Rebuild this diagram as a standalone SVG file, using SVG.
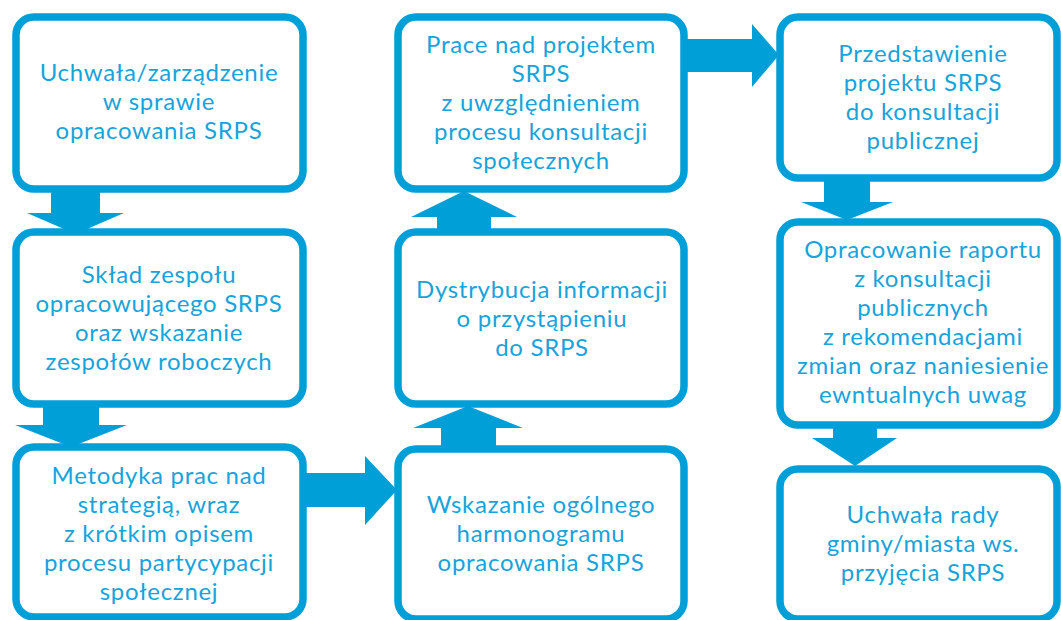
<svg xmlns="http://www.w3.org/2000/svg" width="1061" height="620" viewBox="0 0 1061 620">
  <style>
    .box { fill: #ffffff; stroke: #009FD8; stroke-width: 7.5; }
    .arrow { fill: #009FD8; }
    .label { font-family: Lato, "Open Sans", sans-serif; font-size: 24px; letter-spacing: 0.7px; fill: #17A3DB; text-anchor: middle; }
  </style>
  <rect width="1061" height="620" fill="#ffffff"/>

  <!-- block arrows between steps -->
  <g id="connectors">
    <polygon class="arrow" points="51,188 100,188 100,213 124,213 75.5,234 27,213 51,213"/>
    <polygon class="arrow" points="43,403 99,403 99,425 127,425 71,447 15,425 43,425"/>
    <polygon class="arrow" points="303,473 365,473 365,456 397,490 365,525 365,507 303,507"/>
    <polygon class="arrow" points="441,449 496,449 496,428 523,428 468,406 413,428 441,428"/>
    <polygon class="arrow" points="437,232 491,232 491,217 517,217 464,191 411,217 437,217"/>
    <polygon class="arrow" points="684,39 752,39 752,24 779,55 752,87 752,72 684,72"/>
    <polygon class="arrow" points="824,178 870,178 870,202 893,202 847,220 801,202 824,202"/>
    <polygon class="arrow" points="833,425 877,425 877,438 897,438 855,466 812,438 833,438"/>
  </g>

  <g id="uchwala-zarzadzenie">
    <rect class="box" x="16" y="17" width="287" height="172" rx="18"/>
    <text class="label" x="159" y="81">Uchwała/zarządzenie</text>
    <text class="label" x="159" y="110">w sprawie</text>
    <text class="label" x="159" y="139">opracowania SRPS</text>
  </g>

  <g id="sklad-zespolu">
    <rect class="box" x="16" y="232" width="287" height="172" rx="18"/>
    <text class="label" x="159" y="283">Skład zespołu</text>
    <text class="label" x="159" y="312">opracowującego SRPS</text>
    <text class="label" x="159" y="341">oraz wskazanie</text>
    <text class="label" x="159" y="370">zespołów roboczych</text>
  </g>

  <g id="metodyka-prac">
    <rect class="box" x="16" y="447" width="287" height="170" rx="18"/>
    <text class="label" x="159" y="484">Metodyka prac nad</text>
    <text class="label" x="159" y="513">strategią, wraz</text>
    <text class="label" x="159" y="542">z krótkim opisem</text>
    <text class="label" x="159" y="571">procesu partycypacji</text>
    <text class="label" x="159" y="600">społecznej</text>
  </g>

  <g id="wskazanie-harmonogramu">
    <rect class="box" x="398" y="449" width="286" height="170" rx="18"/>
    <text class="label" x="541" y="513">Wskazanie ogólnego</text>
    <text class="label" x="541" y="542">harmonogramu</text>
    <text class="label" x="541" y="571">opracowania SRPS</text>
  </g>

  <g id="dystrybucja-informacji">
    <rect class="box" x="398" y="232" width="286" height="172" rx="18"/>
    <text class="label" x="542" y="298">Dystrybucja informacji</text>
    <text class="label" x="542" y="327">o przystąpieniu</text>
    <text class="label" x="542" y="356">do SRPS</text>
  </g>

  <g id="prace-nad-projektem">
    <rect class="box" x="398" y="17" width="286" height="172" rx="18"/>
    <text class="label" x="541" y="53">Prace nad projektem</text>
    <text class="label" x="541" y="82">SRPS</text>
    <text class="label" x="541" y="111">z uwzględnieniem</text>
    <text class="label" x="541" y="140">procesu konsultacji</text>
    <text class="label" x="541" y="169">społecznych</text>
  </g>

  <g id="przedstawienie-projektu">
    <rect class="box" x="780" y="17" width="277" height="161" rx="18"/>
    <text class="label" x="923" y="62">Przedstawienie</text>
    <text class="label" x="923" y="91">projektu SRPS</text>
    <text class="label" x="923" y="120">do konsultacji</text>
    <text class="label" x="923" y="149">publicznej</text>
  </g>

  <g id="raport-z-konsultacji">
    <rect class="box" x="780" y="222" width="277" height="203" rx="18"/>
    <text class="label" x="923" y="258">Opracowanie raportu</text>
    <text class="label" x="923" y="287">z konsultacji</text>
    <text class="label" x="923" y="316">publicznych</text>
    <text class="label" x="923" y="345">z rekomendacjami</text>
    <text class="label" x="923" y="374">zmian oraz naniesienie</text>
    <text class="label" x="923" y="403">ewntualnych uwag</text>
  </g>

  <g id="uchwala-rady">
    <rect class="box" x="780" y="469" width="277" height="150" rx="18"/>
    <text class="label" x="923" y="523">Uchwała rady</text>
    <text class="label" x="923" y="552">gminy/miasta ws.</text>
    <text class="label" x="923" y="581">przyjęcia SRPS</text>
  </g>
</svg>
